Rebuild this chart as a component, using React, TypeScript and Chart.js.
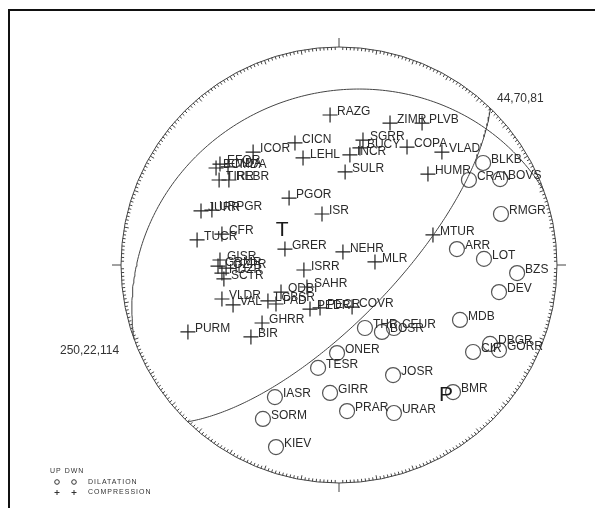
import React, { useEffect, useRef } from "react";
import { Chart, registerables } from "chart.js";

Chart.register(...registerables);

// Station positions on the lower-hemisphere equal-area net (east, north; unit radius)
const compressionNames = [
  "RAZG", "ZIMR", "PLVB", "ICOR", "CICN", "LEHL", "SGRR", "BUCY", "INCR", "COPA",
  "VLAD", "HUMR", "SULR", "EFOR", "BCMDA", "MDA", "TIRR", "REBR", "PGOR", "ISR",
  "JURR", "URPGR", "TUCR", "CFR", "GRER", "NEHR", "MLR", "MTUR", "ISRR", "GISR",
  "GRMR", "OZPR", "HDZR", "SCTR", "SAHR", "ODBI", "VLDR", "VAL", "LCBSR", "PAD",
  "PEDR", "PECR", "COVR", "GHRR", "BIR", "PURM",
];
const compressionX = [
  -0.041, 0.234, 0.381, -0.394, -0.202, -0.165, 0.110, 0.096, 0.050, 0.312,
  0.472, 0.408, 0.028, -0.546, -0.564, -0.509, -0.550, -0.505, -0.229, -0.078,
  -0.633, -0.583, -0.651, -0.537, -0.248, 0.018, 0.165, 0.431, -0.161, -0.546,
  -0.555, -0.518, -0.537, -0.528, -0.147, -0.266, -0.537, -0.486, -0.326, -0.289,
  -0.133, -0.087, 0.060, -0.353, -0.404, -0.693,
];
const compressionY = [
  0.688, 0.651, 0.651, 0.518, 0.560, 0.491, 0.573, 0.537, 0.505, 0.541,
  0.518, 0.417, 0.427, 0.463, 0.445, 0.450, 0.390, 0.390, 0.307, 0.234,
  0.248, 0.252, 0.115, 0.142, 0.073, 0.060, 0.014, 0.138, -0.023, 0.023,
  -0.005, -0.014, -0.037, -0.064, -0.101, -0.124, -0.156, -0.183, -0.165, -0.179,
  -0.202, -0.197, -0.193, -0.266, -0.330, -0.307,
];

const dilatationNames = [
  "BLKB", "CRAN", "BOVS", "RMGR", "ARR", "LOT", "BZS", "DEV", "MDB", "THR",
  "BOSR", "CEUR", "ONER", "TESR", "JOSR", "CIR", "DBGR", "GORR", "IASR", "GIRR",
  "PRAR", "URAR", "SORM", "KIEV", "BMR",
];
const dilatationX = [
  0.661, 0.596, 0.739, 0.743, 0.541, 0.665, 0.817, 0.734, 0.555, 0.119,
  0.197, 0.252, -0.009, -0.096, 0.248, 0.615, 0.693, 0.734, -0.294, -0.041,
  0.037, 0.252, -0.349, -0.289, 0.523,
];
const dilatationY = [
  0.468, 0.390, 0.394, 0.234, 0.073, 0.028, -0.037, -0.124, -0.252, -0.289,
  -0.307, -0.289, -0.404, -0.472, -0.505, -0.399, -0.362, -0.390, -0.606, -0.587,
  -0.670, -0.679, -0.706, -0.835, -0.583,
];

// Nodal planes: strike, dip, rake
const planeStrikes = [44, 250];
const planeDips = [70, 22];
const planeRakes = [81, 114];

// Principal stress axes on the net
const axisNames = ["T", "P"];
const axisX = [-0.261, 0.491];
const axisY = [0.161, -0.596];

const legendHeader = "UP DWN";
const legendRows = ["DILATATION", "COMPRESSION"];

const deg = Math.PI / 180;

// Equal-area projection of a nodal plane, traced along its strike
function planeCurve(strike: number, dip: number) {
  const pts: { x: number; y: number }[] = [];
  const s = strike * deg;
  const d = dip * deg;
  for (let t = 0; t <= 180; t += 1) {
    const th = t * deg;
    const e = Math.cos(th) * Math.sin(s) + Math.sin(th) * Math.cos(d) * Math.cos(s);
    const n = Math.cos(th) * Math.cos(s) - Math.sin(th) * Math.cos(d) * Math.sin(s);
    const z = Math.sin(th) * Math.sin(d);
    const plunge = Math.asin(Math.min(1, z));
    const r = Math.SQRT2 * Math.sin((Math.PI / 2 - plunge) / 2);
    const h = Math.hypot(e, n) || 1e-9;
    pts.push({ x: (r * e) / h, y: (r * n) / h });
  }
  return pts;
}

const FONT = '"Liberation Sans", Arial, sans-serif';

const netPlugin = {
  id: "net",
  beforeDatasetsDraw(chart: any) {
    const { ctx, scales } = chart;
    const cx = scales.x.getPixelForValue(0);
    const cy = scales.y.getPixelForValue(0);
    const R = scales.x.getPixelForValue(1) - cx;
    ctx.save();
    // frame
    ctx.strokeStyle = "#111";
    ctx.lineWidth = 2;
    ctx.strokeRect(9, 10, 700, 700);
    // primitive circle
    ctx.strokeStyle = "#444";
    ctx.lineWidth = 1;
    ctx.beginPath();
    ctx.arc(cx, cy, R, 0, Math.PI * 2);
    ctx.stroke();
    for (let a = 0; a < 360; a += 1) {
      const ang = a * deg;
      const sx = Math.sin(ang);
      const sy = -Math.cos(ang);
      let r0 = R;
      let r1 = R - (a % 10 === 0 ? 4.5 : 3);
      if (a % 90 === 0) {
        r1 = R + 9;
      }
      ctx.beginPath();
      ctx.moveTo(cx + sx * r0, cy + sy * r0);
      ctx.lineTo(cx + sx * r1, cy + sy * r1);
      ctx.stroke();
    }
    ctx.restore();
  },
  afterDatasetsDraw(chart: any) {
    const { ctx, scales } = chart;
    const px = (v: number) => scales.x.getPixelForValue(v);
    const py = (v: number) => scales.y.getPixelForValue(v);
    ctx.save();
    ctx.fillStyle = "#2a2a2a";
    ctx.font = `12px ${FONT}`;
    ctx.textBaseline = "middle";
    ctx.textAlign = "left";
    compressionNames.forEach((name, i) => {
      ctx.fillText(name, px(compressionX[i]) + 7, py(compressionY[i]) - 3);
    });
    dilatationNames.forEach((name, i) => {
      ctx.fillText(name, px(dilatationX[i]) + 8, py(dilatationY[i]) - 3);
    });
    // plane labels
    ctx.fillStyle = "#333";
    ctx.font = `12px ${FONT}`;
    ctx.fillText(`${planeStrikes[0]},${planeDips[0]},${planeRakes[0]}`, 497, 99);
    ctx.fillText(`${planeStrikes[1]},${planeDips[1]},${planeRakes[1]}`, 60, 351);
    // T and P axes
    ctx.fillStyle = "#1a1a1a";
    ctx.font = `21px ${FONT}`;
    ctx.textAlign = "center";
    axisNames.forEach((name, i) => {
      ctx.fillText(name, px(axisX[i]), py(axisY[i]));
    });
    // legend
    ctx.fillStyle = "#333";
    ctx.strokeStyle = "#333";
    ctx.lineWidth = 1;
    ctx.font = `7px ${FONT}`;
    ctx.textAlign = "left";
    (ctx as any).letterSpacing = "1px";
    ctx.fillText(legendHeader, 50, 471);
    legendRows.forEach((row, i) => {
      const y = 482 + i * 10.5;
      ctx.fillText(row, 88, y);
      [57, 74].forEach((x) => {
        ctx.beginPath();
        if (i === 0) {
          ctx.arc(x, y, 2.3, 0, Math.PI * 2);
        } else {
          ctx.moveTo(x - 2.5, y);
          ctx.lineTo(x + 2.5, y);
          ctx.moveTo(x, y - 2.5);
          ctx.lineTo(x, y + 2.5);
        }
        ctx.stroke();
      });
    });
    ctx.restore();
  },
};

export default function App() {
  const canvasRef = useRef<HTMLCanvasElement | null>(null);

  useEffect(() => {
    if (!canvasRef.current) return;
    const planeSets = planeStrikes.map((s, i) => ({
      type: "line" as const,
      data: planeCurve(s, planeDips[i]),
      borderColor: "#444",
      borderWidth: 1,
      pointRadius: 0,
      showLine: true,
      fill: false,
      tension: 0,
    }));
    const chart = new Chart(canvasRef.current, {
      type: "scatter",
      data: {
        datasets: [
          ...planeSets,
          {
            label: "COMPRESSION",
            data: compressionX.map((x, i) => ({ x, y: compressionY[i] })),
            pointStyle: "cross",
            pointRadius: 7.5,
            borderColor: "#222",
            borderWidth: 1.2,
            backgroundColor: "#222",
          },
          {
            label: "DILATATION",
            data: dilatationX.map((x, i) => ({ x, y: dilatationY[i] })),
            pointStyle: "circle",
            pointRadius: 7.5,
            borderColor: "#555",
            borderWidth: 1.2,
            backgroundColor: "rgba(0,0,0,0)",
          },
        ] as any,
      },
      options: {
        animation: false,
        responsive: false,
        layout: { padding: { left: 121, right: 38, top: 47, bottom: 25 } },
        scales: {
          x: { type: "linear", min: -1, max: 1, display: false },
          y: { type: "linear", min: -1, max: 1, display: false },
        },
        plugins: { legend: { display: false }, tooltip: { enabled: false } },
      },
      plugins: [netPlugin],
    });
    return () => chart.destroy();
  }, []);

  return (
    <div style={{ position: "absolute", left: 0, top: 0, width: 595, height: 508, background: "#fff" }}>
      <canvas ref={canvasRef} width={595} height={508} style={{ display: "block" }} />
    </div>
  );
}
